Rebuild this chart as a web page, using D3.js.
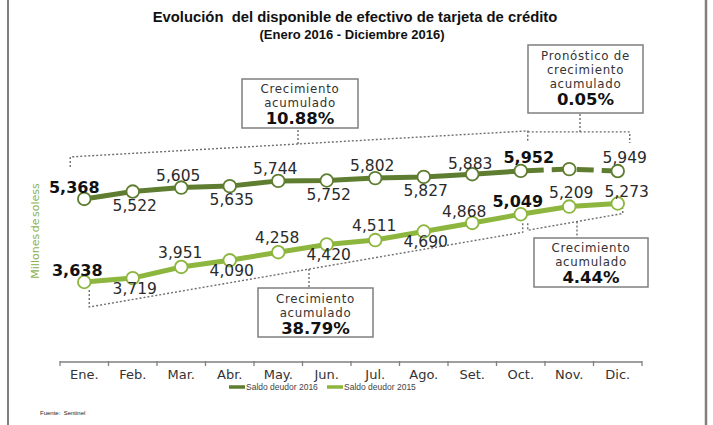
<!DOCTYPE html>
<html><head><meta charset="utf-8">
<script src="https://cdn.jsdelivr.net/npm/d3@7"></script>
<style>body{margin:0;background:#fff;} svg{display:block;}</style>
</head><body>
<svg id="c" width="713" height="425"></svg>
<script>
// ---- data ----
const months = ["Ene.","Feb.","Mar.","Abr.","May.","Jun.","Jul.","Ago.","Set.","Oct.","Nov.","Dic."];
const saldo2016 = [5368,5522,5605,5635,5744,5752,5802,5827,5883,5952,5990,5949];
const saldo2015 = [3638,3719,3951,4090,4258,4420,4511,4690,4868,5049,5209,5273];
const seriesNames = ["Saldo deudor 2016","Saldo deudor 2015"];
const forecastFrom = 9;       // Oct. 2016 onwards is forecast (dashed)
const hiddenLabel2016 = [10]; // Nov. forecast has no label
const boldIdx = [0, 9];
const boxTexts = [
  ["Crecimiento","acumulado"],
  ["Pronóstico de","crecimiento","acumulado"],
  ["Crecimiento","acumulado"],
  ["Crecimiento","acumulado"]
];
const growthValues = ["10.88%","0.05%","38.79%","4.44%"];
const title = "Evolución  del disponible de efectivo de tarjeta de crédito";
const subtitle = "(Enero 2016 - Diciembre 2016)";
const yLabel = "Millones de soless";
const source = "Fuente:  Sentinel";

// ---- setup ----
const svg = d3.select("#c");
const C16 = "#5e7d31", C15 = "#8db63e", GRAY = "#7f7f7f", DOT = "#6f6f6f";
const FONT = "'DejaVu Sans', sans-serif";
const x = d3.scaleBand().domain(months).range([60, 642]);
const y = d3.scaleLinear().domain([3000, 6500]).range([312.6, 144.6]);
const cx = i => x(months[i]) + x.bandwidth() / 2;
const fmt = d3.format(",");

// frame
svg.append("line").attr("x1",8).attr("x2",8).attr("y1",0).attr("y2",425).attr("stroke",GRAY).attr("stroke-width",2);
svg.append("line").attr("x1",706).attr("x2",706).attr("y1",0).attr("y2",425).attr("stroke",GRAY).attr("stroke-width",2.5);

// titles
svg.append("text").attr("x",355).attr("y",22).attr("text-anchor","middle")
  .style("white-space","pre").attr("font-family","'Liberation Sans', Arial, sans-serif")
  .attr("font-weight","bold").attr("font-size",14.8).attr("fill","#111").text(title);
svg.append("text").attr("x",352).attr("y",39).attr("text-anchor","middle")
  .attr("font-family","'Liberation Sans', Arial, sans-serif")
  .attr("font-weight","bold").attr("font-size",13).attr("fill","#111").text(subtitle);

// y label
svg.append("text").attr("transform","translate(39,231) rotate(-90)").attr("text-anchor","middle")
  .attr("font-family",FONT).attr("font-size",11).attr("word-spacing",-2)
  .attr("fill","#8db14f").text(yLabel);

// x axis
const axG = svg.append("g").attr("transform","translate(0,362)");
axG.call(d3.axisBottom(x).tickSize(0).tickPadding(8));
axG.select(".domain").remove();
axG.selectAll("text").attr("font-family",FONT).attr("font-size",13).attr("fill","#333");
axG.append("line").attr("x1",x.range()[0]).attr("x2",x.range()[1]).attr("stroke",GRAY).attr("stroke-width",1.5);
axG.selectAll(".edge").data(d3.range(months.length + 1)).join("line").attr("class","edge")
  .attr("x1",i => x.range()[0] + i * x.step()).attr("x2",i => x.range()[0] + i * x.step())
  .attr("y1",-1).attr("y2",4).attr("stroke",GRAY).attr("stroke-width",1.3);

// lines
const line = d3.line().x(d => cx(d.i)).y(d => y(d.v));
const pts16 = saldo2016.map((v,i) => ({v,i}));
const pts15 = saldo2015.map((v,i) => ({v,i}));
svg.append("path").attr("d", line(pts15)).attr("fill","none").attr("stroke",C15).attr("stroke-width",5).attr("stroke-linecap","round");
svg.append("path").attr("d", line(pts16.slice(0, forecastFrom + 1))).attr("fill","none").attr("stroke",C16).attr("stroke-width",5).attr("stroke-linecap","round");
svg.append("path").attr("d", line(pts16.slice(forecastFrom))).attr("fill","none").attr("stroke",C16).attr("stroke-width",5)
  .attr("stroke-dasharray","17,8").attr("stroke-dashoffset",-6);

// circles
function dots(pts, col) {
  svg.append("g").selectAll("circle").data(pts).join("circle")
    .attr("cx", d => cx(d.i)).attr("cy", d => y(d.v)).attr("r", 6.3)
    .attr("fill","#fff").attr("stroke", col).attr("stroke-width", 1.8);
}
dots(pts15, C15);
dots(pts16, C16);

// value labels
function place16(i) {
  if (i === 0) return {dx:-10, dy:-6};
  if (i < 8) return i % 2 ? {dx:2, dy:19} : {dx:-3, dy:-7};
  if (i === 8) return {dx:-2, dy:-5};
  if (i === 9) return {dx:8, dy:-8};
  return {dx:7, dy:-8};
}
function place15(i) {
  if (i === 0) return {dx:-7, dy:-6};
  if (i < 8) return i % 2 ? {dx:2, dy:16} : {dx:-1, dy:-9};
  if (i === 8) return {dx:-8, dy:-6};
  if (i === 9) return {dx:-3, dy:-7};
  if (i === 10) return {dx:2, dy:-9};
  return {dx:9, dy:-6};
}
function labels(pts, placer, hidden) {
  svg.append("g").selectAll("text").data(pts.filter(d => !hidden.includes(d.i))).join("text")
    .attr("x", d => cx(d.i) + placer(d.i).dx)
    .attr("y", d => y(d.v) + placer(d.i).dy)
    .attr("text-anchor","middle").attr("font-family",FONT)
    .attr("font-size", d => boldIdx.includes(d.i) ? 16 : 15.5)
    .attr("font-weight", d => boldIdx.includes(d.i) ? "bold" : "normal")
    .attr("fill", d => boldIdx.includes(d.i) ? "#111" : "#2a2a2a")
    .text(d => fmt(d.v));
}
labels(pts16, place16, hiddenLabel2016);
labels(pts15, place15, []);

// brackets (dotted)
const dotted = g => g.attr("fill","none").attr("stroke",DOT).attr("stroke-width",1.4).attr("stroke-dasharray","2,2");
const y16 = i => y(saldo2016[i]), y15 = i => y(saldo2015[i]);
const lerp = (p, q, xx) => p[1] + (q[1]-p[1]) * (xx - p[0]) / (q[0]-p[0]);

// 2016 accumulated
const b1a = [cx(0)-14, y16(0)-42], b1b = [cx(9)+7, y16(9)-40];
svg.append("path").call(dotted).attr("d", `M${b1a[0]},${y16(0)-32}V${b1a[1]}L${b1b[0]},${b1b[1]}V${y16(9)-30}`);
// forecast
const b2y = y16(9)-39;
svg.append("path").call(dotted).attr("d", `M${cx(9)+7},${b2y}H${cx(11)+12}V${y16(11)-28}`);
// 2015 accumulated
const b3a = [cx(0)+5, y15(0)+25], b3b = [cx(9)+2, y15(9)+18];
svg.append("path").call(dotted).attr("d", `M${b3a[0]},${y15(0)+8}V${b3a[1]}L${b3b[0]},${b3b[1]}V${y15(9)+8}`);
// 2015 Oct-Dic
const b4a = [cx(9)+7, y15(9)+16], b4b = [cx(11)+5, y15(11)+10];
svg.append("path").call(dotted).attr("d", `M${b4a[0]},${y15(9)+9}V${b4a[1]}L${b4b[0]},${b4b[1]}V${y15(11)+5}`);

// boxes
const boxes = [
  {x:242, y:79,  w:116, h:49, cxn:298, lineY: lerp(b1a, b1b, 298), top:false, first:13.5},
  {x:528, y:45,  w:115, h:68, cxn:580, lineY: b2y, top:false, first:14.5},
  {x:258, y:288, w:115, h:49, cxn:309, lineY: lerp(b3a, b3b, 309), top:true, first:14.5},
  {x:534, y:238, w:114, h:49, cxn:577, lineY: lerp(b4a, b4b, 577), top:true, first:13.5}
];
boxes.forEach((b, k) => {
  const y0 = b.top ? b.y : b.y + b.h;
  svg.append("line").call(dotted).attr("x1",b.cxn).attr("x2",b.cxn).attr("y1",b.lineY).attr("y2",y0);
  svg.append("rect").attr("x",b.x).attr("y",b.y).attr("width",b.w).attr("height",b.h)
    .attr("fill","#fff").attr("stroke",GRAY).attr("stroke-width",1.5);
  const mid = b.x + b.w/2;
  const lines = boxTexts[k];
  lines.forEach((t, j) => {
    svg.append("text").attr("x",mid).attr("y",b.y + b.first + j*14).attr("text-anchor","middle")
      .attr("font-family",FONT).attr("font-size",11.8).attr("letter-spacing",0.7)
      .attr("fill","#333").text(t);
  });
  svg.append("text").attr("x",mid).attr("y",b.y + b.first + (lines.length-1)*14 + 17.5)
    .attr("text-anchor","middle").attr("font-family",FONT).attr("font-weight","bold")
    .attr("font-size",16.5).attr("fill","#111").text(growthValues[k]);
});

// legend
const lg = svg.append("g").attr("transform","translate(229,387)");
[[C16,0],[C15,98]].forEach(([c,dx],k) => {
  lg.append("line").attr("x1",dx).attr("x2",dx+16).attr("y1",0).attr("y2",0).attr("stroke",c).attr("stroke-width",3.5);
  lg.append("text").attr("x",dx+17).attr("y",3).attr("font-family","'Liberation Sans', Arial, sans-serif")
    .attr("font-size",8.5).attr("fill","#444").text(seriesNames[k]);
});

// source
svg.append("text").attr("x",40).attr("y",415).style("white-space","pre")
  .attr("font-family","'Liberation Sans', Arial, sans-serif").attr("font-size",6).attr("fill","#222").text(source);
</script>
</body></html>
